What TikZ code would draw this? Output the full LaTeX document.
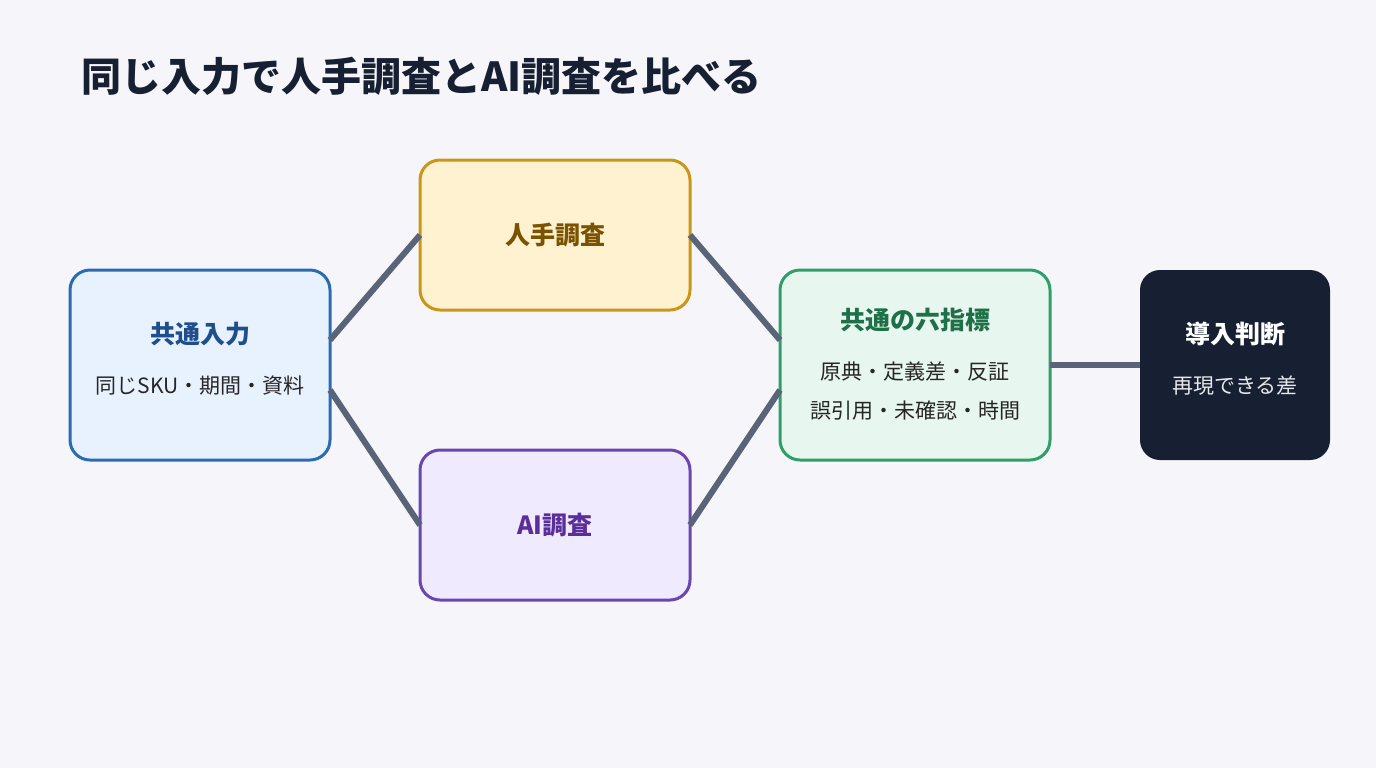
\documentclass[tikz,border=0pt]{standalone}
\usepackage{fontspec}
\setmainfont{Noto Sans CJK JP}
\usetikzlibrary{positioning,calc}
\definecolor{bgc}{HTML}{F6F6FA}
\definecolor{linec}{HTML}{5A6478}
\definecolor{inF}{HTML}{E8F1FE}\definecolor{inD}{HTML}{2B6CB0}\definecolor{inT}{HTML}{1E4E8C}
\definecolor{huF}{HTML}{FFF2D1}\definecolor{huD}{HTML}{C9961A}\definecolor{huT}{HTML}{7A5200}
\definecolor{aiF}{HTML}{EFEAFD}\definecolor{aiD}{HTML}{6B46B0}\definecolor{aiT}{HTML}{5B2E9A}
\definecolor{kpF}{HTML}{E7F6EE}\definecolor{kpD}{HTML}{2F9E6A}\definecolor{kpT}{HTML}{1E7048}
\definecolor{dcF}{HTML}{172033}
\tikzset{
  box/.style = {rounded corners=10pt, line width=1.5pt, align=center,
    inner sep=0pt, text width=#1},
  ttl/.style = {font=\fontsize{12.5}{15}\selectfont\bfseries},
  sub/.style = {font=\fontsize{10.5}{12}\selectfont, text=black!85},
  link/.style = {line width=3pt, linec}
}
\begin{document}
\begin{tikzpicture}[x=0.5pt,y=-0.5pt]
\fill[bgc] (0,0) rectangle (1376,768);
\node[anchor=west, font=\fontsize{20}{24}\selectfont\bfseries, text=dcF] (title) at (74,76) {同じ入力で人手調査とAI調査を比べる};
% boxes
\draw[box=0pt, fill=inF, draw=inD] (70,270) rectangle (330,460);
\draw[box=0pt, fill=huF, draw=huD] (420,160) rectangle (690,310);
\draw[box=0pt, fill=aiF, draw=aiD] (420,450) rectangle (690,600);
\draw[box=0pt, fill=kpF, draw=kpD] (780,270) rectangle (1050,460);
\fill[dcF, rounded corners=10pt] (1140,270) rectangle (1330,460);
\coordinate (in) at (200,365); \coordinate (hu) at (555,235);
\coordinate (ai) at (555,525); \coordinate (kp) at (915,365);
\coordinate (dc) at (1235,365);
% texts
\node[ttl, text=inT] (inA) at (200,334) {共通入力};
\node[sub] (inB) at (200,386) {同じSKU・期間・資料};
\node[ttl, text=huT] (huA) at (hu) {人手調査};
\node[ttl, text=aiT] (aiA) at (ai) {AI調査};
\node[ttl, text=kpT] (kpA) at (915,320) {共通の六指標};
\node[sub] (kpB) at (915,372) {原典・定義差・反証};
\node[sub] (kpC) at (915,411) {誤引用・未確認・時間};
\node[ttl, text=white] (dcA) at (1235,334) {導入判断};
\node[sub, text=white!90!dcF] (dcB) at (1235,386) {再現できる差};
% connectors
\coordinate (inR1) at (330,340); \coordinate (inR2) at (330,390);
\coordinate (huL) at (420,235); \coordinate (huR) at (690,235);
\coordinate (aiL) at (420,525); \coordinate (aiR) at (690,525);
\coordinate (kpL1) at (780,340); \coordinate (kpL2) at (780,390);
\coordinate (kpR) at (1050,365); \coordinate (dcL) at (1140,365);
\draw[link] (inR1) -- (huL);
\draw[link] (inR2) -- (aiL);
\draw[link] (huR) -- (kpL1);
\draw[link] (aiR) -- (kpL2);
\draw[link] (kpR) -- (dcL);
\end{tikzpicture}
\end{document}
